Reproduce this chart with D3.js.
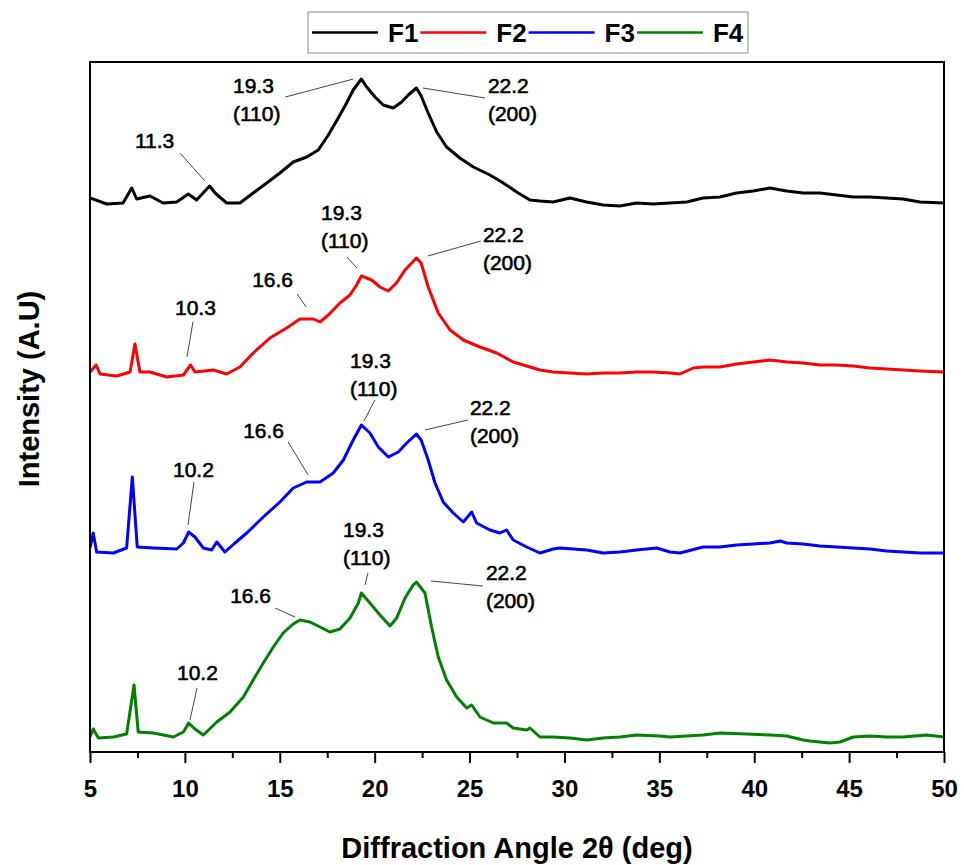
<!DOCTYPE html>
<html>
<head>
<meta charset="utf-8">
<script src="https://cdn.jsdelivr.net/npm/d3@7"></script>
<style>
  body { margin: 0; background: #fff; }
  svg { display: block; }
</style>
</head>
<body>
<svg id="chart" width="964" height="865"></svg>
<script>
// Sample names and line colours
const seriesNames = ["F1", "F2", "F3", "F4"];
const seriesColors = ["#000000", "#ff0000", "#0000ff", "#008000"];

// x-axis ticks (2θ, degrees)
const xMajorTicks = [5, 10, 15, 20, 25, 30, 35, 40, 45, 50];
const xMinorTicks = [7.5, 12.5, 17.5, 22.5, 27.5, 32.5, 37.5, 42.5, 47.5];

// Diffraction patterns, [2θ, intensity (A.U., stacked)]
const f1 = [
  [5.00, 554], [5.88, 548], [6.74, 549], [7.20, 564], [7.46, 553], [8.16, 556],
  [8.85, 549], [9.57, 550], [10.18, 558], [10.62, 552], [11.30, 566], [11.59, 559],
  [12.20, 549], [12.90, 549], [13.60, 559], [14.31, 569], [15.01, 579], [15.71, 590],
  [16.42, 595], [17.03, 602], [17.56, 617], [18.08, 634], [18.52, 649], [18.87, 662],
  [19.30, 673], [19.58, 665], [20.02, 655], [20.45, 647], [20.98, 644], [21.42, 650],
  [21.77, 657], [22.20, 664], [22.45, 656], [22.82, 639], [23.27, 620], [23.79, 605],
  [24.49, 594], [25.20, 585], [26.07, 577], [26.78, 569], [27.48, 560], [28.18, 552],
  [28.71, 551], [29.40, 550], [30.29, 554], [31.17, 550], [32.04, 547], [32.92, 546],
  [33.80, 549], [34.68, 548], [35.56, 549], [36.44, 550], [37.31, 554], [38.19, 555],
  [39.07, 559], [39.95, 561], [40.83, 564], [41.71, 561], [42.58, 559], [43.46, 559],
  [44.34, 557], [45.22, 555], [46.10, 555], [46.98, 554], [47.85, 553], [48.73, 550],
  [50.00, 549]
];
const f2 = [
  [5.00, 380], [5.32, 387], [5.53, 378], [6.41, 376], [7.11, 380], [7.37, 408],
  [7.63, 380], [8.16, 380], [9.04, 375], [9.92, 377], [10.30, 387], [10.53, 380],
  [11.50, 382], [12.20, 378], [12.90, 385], [13.60, 399], [14.48, 414], [15.36, 424],
  [16.06, 433], [16.77, 433], [17.12, 430], [17.56, 437], [18.17, 449], [18.70, 457],
  [19.05, 467], [19.30, 476], [19.84, 472], [20.28, 465], [20.72, 461], [21.15, 469],
  [21.60, 482], [22.20, 494], [22.45, 489], [22.82, 465], [23.35, 439], [23.97, 422],
  [24.67, 412], [25.55, 405], [26.43, 399], [27.30, 390], [28.18, 385], [28.71, 382],
  [29.40, 380], [30.29, 379], [31.17, 378], [32.04, 379], [32.92, 379], [33.80, 380],
  [34.68, 380], [35.56, 379], [36.08, 378], [36.79, 384], [37.31, 385], [38.19, 385],
  [39.07, 388], [39.95, 390], [40.83, 392], [41.71, 390], [42.58, 389], [43.46, 387],
  [44.34, 387], [45.22, 386], [46.10, 384], [46.98, 383], [47.85, 382], [48.73, 381],
  [50.00, 380]
];
const f3 = [
  [5.00, 204], [5.17, 219], [5.35, 200], [6.23, 199], [6.93, 204], [7.23, 275],
  [7.49, 205], [8.34, 204], [9.57, 203], [9.92, 209], [10.20, 220], [10.53, 215],
  [10.97, 204], [11.41, 202], [11.68, 210], [12.11, 200], [12.64, 209], [13.26, 219],
  [14.13, 235], [15.01, 250], [15.71, 264], [16.42, 270], [17.12, 270], [17.82, 279],
  [18.35, 292], [18.87, 312], [19.30, 327], [19.75, 319], [20.19, 305], [20.72, 295],
  [21.24, 300], [21.69, 309], [22.20, 318], [22.45, 312], [22.82, 292], [23.18, 269],
  [23.61, 250], [24.14, 239], [24.67, 230], [25.11, 240], [25.37, 229], [26.07, 222],
  [26.60, 219], [26.95, 222], [27.30, 212], [28.01, 205], [28.71, 199], [29.40, 203],
  [29.76, 204], [31.17, 202], [32.04, 199], [32.92, 200], [33.80, 202], [34.86, 204],
  [35.56, 200], [36.08, 199], [37.31, 205], [38.19, 205], [39.07, 207], [39.95, 208],
  [40.83, 209], [41.36, 211], [41.71, 209], [42.58, 208], [43.46, 206], [44.34, 205],
  [45.22, 204], [46.10, 203], [46.98, 201], [47.85, 200], [48.73, 199], [50.00, 199]
];
const f4 = [
  [5.00, 15], [5.17, 23], [5.44, 14], [6.23, 15], [6.93, 18], [7.32, 67],
  [7.54, 20], [8.34, 19], [9.39, 15], [9.92, 20], [10.20, 29], [10.53, 23],
  [10.97, 17], [11.68, 30], [12.38, 40], [13.08, 55], [13.60, 72], [14.13, 89],
  [14.66, 105], [15.18, 119], [15.71, 128], [16.06, 132], [16.59, 130], [17.12, 125],
  [17.64, 120], [18.17, 123], [18.70, 134], [19.14, 149], [19.30, 159], [19.75, 149],
  [20.28, 137], [20.81, 126], [21.16, 134], [21.60, 154], [22.03, 167], [22.20, 170],
  [22.65, 159], [23.00, 125], [23.35, 95], [23.79, 72], [24.32, 55], [24.85, 44],
  [25.11, 47], [25.55, 35], [26.25, 29], [26.95, 29], [27.30, 24], [28.01, 22],
  [28.18, 24], [28.71, 15], [29.40, 15], [30.29, 14], [31.17, 12], [32.04, 14],
  [32.92, 15], [33.80, 17], [35.03, 16], [35.56, 15], [37.31, 17], [38.19, 19],
  [39.60, 18], [40.83, 17], [41.71, 16], [42.58, 12], [42.93, 11], [43.46, 10],
  [43.99, 9], [44.52, 10], [45.22, 15], [46.10, 16], [46.98, 15], [47.85, 15],
  [49.08, 17], [50.00, 15]
];
const seriesData = [f1, f2, f3, f4];

// Peak annotations: label text at a 2θ position of a series
const peakNotes = [
  { series: 0, theta: 11.3, lines: ["11.3"] },
  { series: 0, theta: 19.3, lines: ["19.3", "(110)"] },
  { series: 0, theta: 22.2, lines: ["22.2", "(200)"] },
  { series: 1, theta: 10.3, lines: ["10.3"] },
  { series: 1, theta: 16.6, lines: ["16.6"] },
  { series: 1, theta: 19.3, lines: ["19.3", "(110)"] },
  { series: 1, theta: 22.2, lines: ["22.2", "(200)"] },
  { series: 2, theta: 10.2, lines: ["10.2"] },
  { series: 2, theta: 16.6, lines: ["16.6"] },
  { series: 2, theta: 19.3, lines: ["19.3", "(110)"] },
  { series: 2, theta: 22.2, lines: ["22.2", "(200)"] },
  { series: 3, theta: 10.2, lines: ["10.2"] },
  { series: 3, theta: 16.6, lines: ["16.6"] },
  { series: 3, theta: 19.3, lines: ["19.3", "(110)"] },
  { series: 3, theta: 22.2, lines: ["22.2", "(200)"] }
];
// Placement of each annotation relative to its peak (px): label left/baseline, leader start/end
const noteLayout = [
  { label: [-74.6, -38], leader: [-29.6, -33, -4.6, -5] },
  { label: [-128.4, 14], leader: [-76, 18, -8, 0] },
  { label: [71.5, 5], leader: [68.5, 10, 6.5, 0] },
  { label: [-15.6, -50], leader: [2.4, -43, -3.6, -8] },
  { label: [-58, -32], leader: [-13, -25, -4, -12] },
  { label: [-40.4, -56], leader: [-14.4, -19, -4.4, -8] },
  { label: [66.5, -16], leader: [64.5, -17, 11.5, -2] },
  { label: [-15.7, -55], leader: [5.3, -50, -0.7, -7] },
  { label: [-67, -44], leader: [-22, -40, -2, -7] },
  { label: [-11.4, -57], leader: [13.6, -25, 2.6, -4] },
  { label: [53.5, -19], leader: [51.5, -14, 8.5, -4] },
  { label: [-11.7, -43], leader: [8.3, -35, 1.3, -3] },
  { label: [-80, -19], leader: [-35, -14, -15, -5] },
  { label: [-18.4, -56], leader: [6.6, -20, 3.6, -8] },
  { label: [69.5, -2], leader: [66.5, 4, 14.5, -1] }
];

const svg = d3.select("#chart");
const plot = { left: 90, right: 944, top: 62, bottom: 752 };
const fontFamily = "'Liberation Sans', Arial, sans-serif";

const x = d3.scaleLinear().domain([5, 50]).range([plot.left, plot.right]);
const y = d3.scaleLinear().domain([0, 690]).range([plot.bottom, plot.top]);

svg.append("defs").append("clipPath").attr("id", "plot-clip")
  .append("rect")
  .attr("x", plot.left).attr("y", plot.top)
  .attr("width", plot.right - plot.left).attr("height", plot.bottom - plot.top);

// Traces
const line = d3.line().x(d => x(d[0])).y(d => y(d[1]));
svg.append("g").attr("clip-path", "url(#plot-clip)")
  .selectAll("path")
  .data(seriesData)
  .join("path")
  .attr("d", line)
  .attr("fill", "none")
  .attr("stroke", (d, i) => seriesColors[i])
  .attr("stroke-width", 3)
  .attr("stroke-linejoin", "round");

// Plot frame
svg.append("rect")
  .attr("x", plot.left).attr("y", plot.top)
  .attr("width", plot.right - plot.left).attr("height", plot.bottom - plot.top)
  .attr("fill", "none").attr("stroke", "#000").attr("stroke-width", 2);

// Bottom axis
const xAxis = svg.append("g")
  .attr("transform", `translate(0,${plot.bottom})`)
  .call(d3.axisBottom(x).tickValues(xMajorTicks).tickSize(11).tickPadding(17).tickFormat(d3.format("d")));
xAxis.select(".domain").remove();
xAxis.selectAll(".tick line").attr("stroke", "#000").attr("stroke-width", 2);
xAxis.selectAll(".tick text")
  .attr("font-family", fontFamily)
  .attr("font-size", 24).attr("font-weight", "bold").attr("fill", "#000");

const xMinor = svg.append("g")
  .attr("transform", `translate(0,${plot.bottom})`)
  .call(d3.axisBottom(x).tickValues(xMinorTicks).tickSize(6).tickFormat(""));
xMinor.select(".domain").remove();
xMinor.selectAll(".tick line").attr("stroke", "#000").attr("stroke-width", 2);

// Axis titles
svg.append("text")
  .attr("x", (plot.left + plot.right) / 2).attr("y", 858)
  .attr("text-anchor", "middle")
  .attr("font-family", fontFamily)
  .attr("font-size", 29).attr("font-weight", "bold")
  .text("Diffraction Angle 2θ (deg)");

svg.append("text")
  .attr("transform", "translate(39,389) rotate(-90)")
  .attr("text-anchor", "middle")
  .attr("font-family", fontFamily)
  .attr("font-size", 29).attr("font-weight", "bold")
  .text("Intensity (A.U)");

// Peak labels with leader lines
function valueAt(series, t) {
  const data = seriesData[series];
  const i = d3.bisector(d => d[0]).left(data, t);
  if (i <= 0) return data[0][1];
  if (i >= data.length) return data[data.length - 1][1];
  const a = data[i - 1], b = data[i];
  return a[1] + (b[1] - a[1]) * (t - a[0]) / (b[0] - a[0]);
}

const notes = svg.append("g");
peakNotes.forEach((n, k) => {
  const px = x(n.theta), py = y(valueAt(n.series, n.theta));
  const lay = noteLayout[k];
  notes.append("line")
    .attr("x1", px + lay.leader[0]).attr("y1", py + lay.leader[1])
    .attr("x2", px + lay.leader[2]).attr("y2", py + lay.leader[3])
    .attr("stroke", "#444").attr("stroke-width", 1);
  const t = notes.append("text")
    .attr("font-family", fontFamily)
    .attr("font-size", 21).attr("fill", "#000")
    .attr("stroke", "#000").attr("stroke-width", 0.6);
  n.lines.forEach((s, j) => {
    t.append("tspan")
      .attr("x", px + lay.label[0])
      .attr("y", py + lay.label[1] + j * 28)
      .text(s);
  });
});

// Legend
const legend = svg.append("g").attr("transform", "translate(308,12)");
legend.append("rect")
  .attr("width", 440).attr("height", 41)
  .attr("fill", "#fff").attr("stroke", "#888").attr("stroke-width", 1);
const items = legend.selectAll("g.item")
  .data(seriesNames)
  .join("g").attr("class", "item")
  .attr("transform", (d, i) => `translate(${4 + i * 108.3},0)`);
items.append("line")
  .attr("x1", 0).attr("x2", 66).attr("y1", 20.5).attr("y2", 20.5)
  .attr("stroke", (d, i) => seriesColors[i]).attr("stroke-width", 2.5);
items.append("text")
  .attr("x", 76).attr("y", 30)
  .attr("font-family", fontFamily)
  .attr("font-size", 26).attr("font-weight", "bold")
  .text(d => d);
</script>
</body>
</html>
